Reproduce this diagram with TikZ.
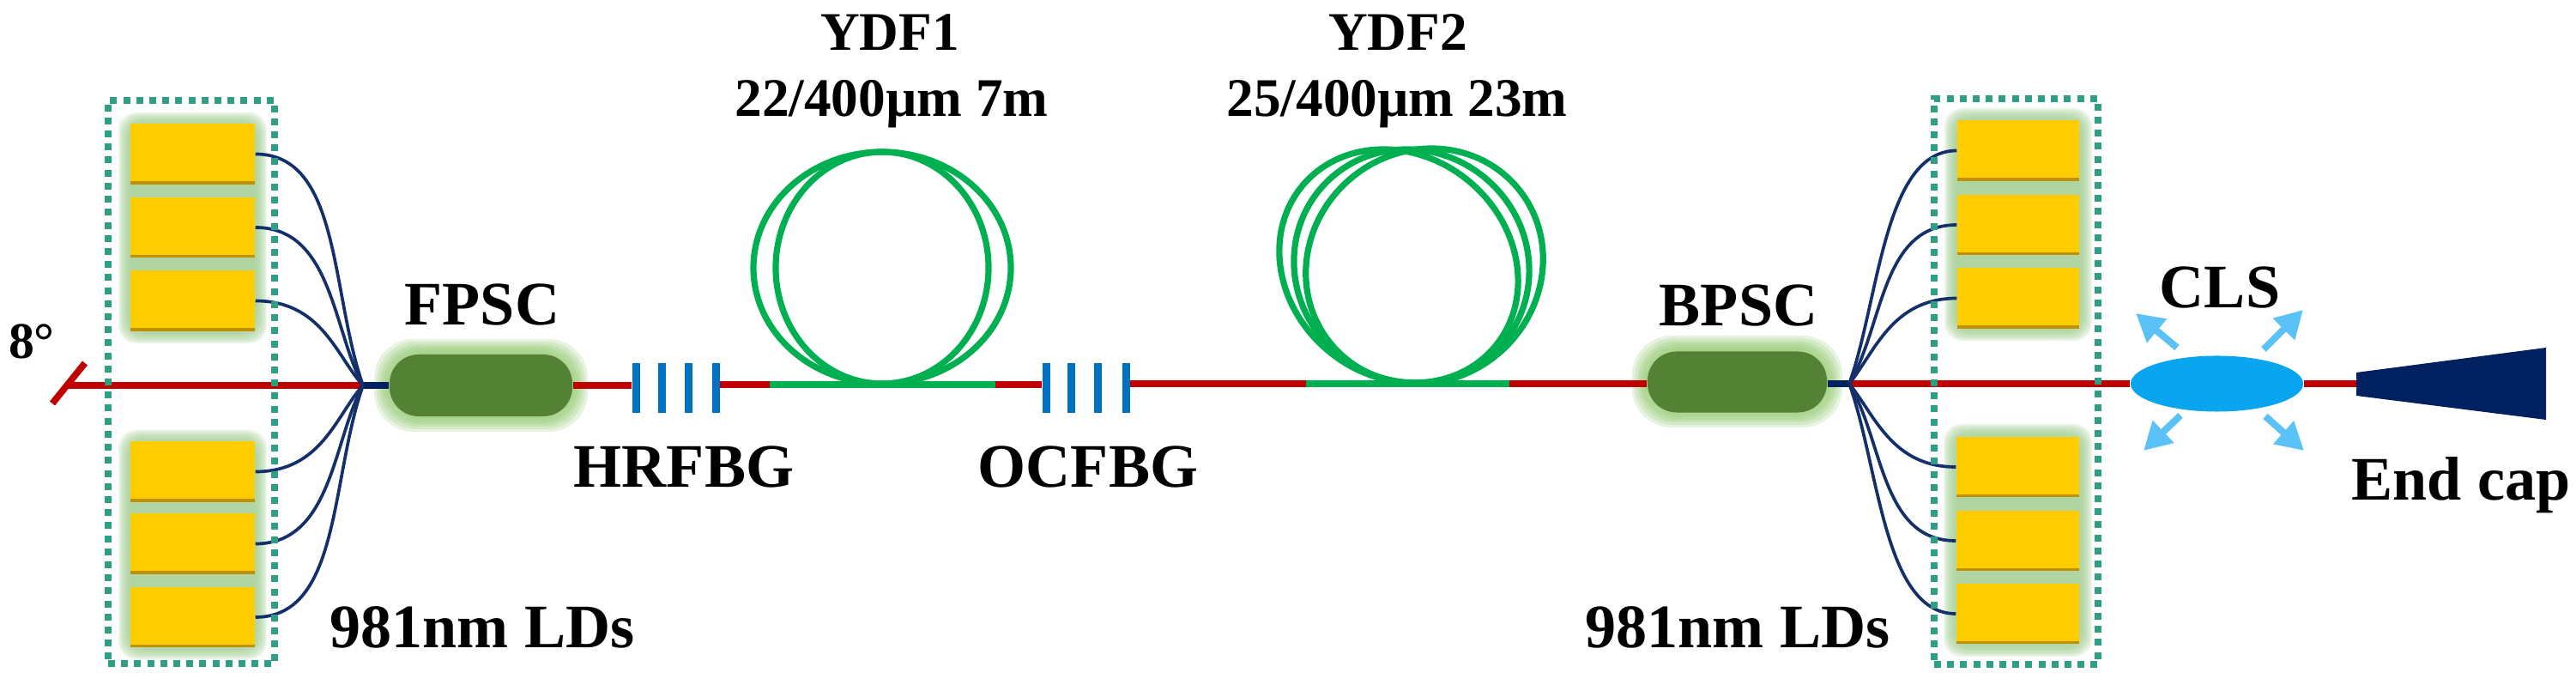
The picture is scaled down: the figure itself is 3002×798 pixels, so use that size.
\documentclass[tikz,border=0pt]{standalone}
\usepackage{fontspec}
\setmainfont{Liberation Serif}
\usetikzlibrary{arrows.meta,shapes.geometric}
\definecolor{ldgold}{HTML}{FFCC00}
\definecolor{ldshade}{HTML}{BF9000}
\definecolor{glowld}{HTML}{A6CF96}
\definecolor{glowpc}{HTML}{98CB78}
\definecolor{pcgreen}{HTML}{548235}
\definecolor{fibred}{HTML}{C00000}
\definecolor{fibgreen}{HTML}{00B050}
\definecolor{navy}{HTML}{002060}
\definecolor{pumpnavy}{HTML}{14306A}
\definecolor{fbgblue}{HTML}{0070C0}
\definecolor{teal}{HTML}{2E9E84}
\definecolor{clsblue}{HTML}{09A5EE}
\definecolor{rayblue}{HTML}{5BC2F8}
\newcommand\glowrect[7]{%
  \foreach \p in {#5}
    \fill[#6,opacity=.24,rounded corners=#7] ({#1-\p},{#2-\p}) rectangle ({#3+\p},{#4+\p});}
\tikzset{
  ldbox/.style={draw=none,fill=ldgold,inner sep=0pt,minimum height=.70cm,
    path picture={\fill[ldshade] (path picture bounding box.south west) rectangle ([yshift=.035cm]path picture bounding box.south east);}},
  coupler/.style={draw=none,fill=pcgreen,rounded corners=.34cm,inner sep=0pt},
  redfib/.style={draw=fibred,line width=2.2pt},
  greenfib/.style={draw=fibgreen,line width=2.2pt},
  feed/.style={draw=navy,line width=2.3pt},
  pump/.style={draw=pumpnavy,line width=1.05pt},
  coil/.style={draw=fibgreen,line width=2.05pt},
  grating/.style={fill=fbgblue,draw=none,inner sep=0pt,minimum width=.09cm,minimum height=.57cm},
  dotbox/.style={draw=teal,line width=2.2pt,dash pattern=on .08cm off .072cm,inner sep=0pt,fill=none},
  ray/.style={draw=rayblue,line width=2.3pt,-{Triangle[length=.32cm,width=.34cm]}},
  big/.style={font=\bfseries\fontsize{20.5}{24}\selectfont,inner sep=0pt,anchor=base,text=black},
  small/.style={font=\bfseries\fontsize{18}{21}\selectfont,inner sep=0pt,anchor=base,text=black},
  deg/.style={font=\bfseries\fontsize{17}{20}\selectfont,inner sep=0pt,anchor=base,text=black},
}
\begin{document}
\begin{tikzpicture}[x=0.01cm,y=-0.01cm]
\path[use as bounding box] (0,0) rectangle (3002,798);
% glows
\glowrect{152}{145}{297}{386}{14,12,10,8,6,4,2,0}{glowld}{6pt}
\glowrect{152}{515}{297}{754}{14,12,10,8,6,4,2,0}{glowld}{6pt}
\glowrect{2281}{141}{2423}{382}{15,13,11,9,7,5,3,0}{glowld}{6pt}
\glowrect{2280}{509}{2423}{750}{15,13,11,9,7,5,3,0}{glowld}{6pt}
\glowrect{454}{413}{667}{485}{18,15,12,10,8,5,2}{glowpc}{13pt}
\glowrect{1920}{409}{2129}{480}{18,15,12,10,8,5,2}{glowpc}{13pt}
% laser diodes
\node[ldbox,minimum width=1.45cm] (L1) at (224.5,179.5) {};
\node[ldbox,minimum width=1.45cm] (L2) at (224.5,265) {};
\node[ldbox,minimum width=1.45cm] (L3) at (224.5,350.5) {};
\node[ldbox,minimum width=1.45cm] (L4) at (224.5,549.5) {};
\node[ldbox,minimum width=1.45cm] (L5) at (224.5,633.5) {};
\node[ldbox,minimum width=1.45cm] (L6) at (224.5,719) {};
\node[ldbox,minimum width=1.42cm] (R1) at (2352,175.5) {};
\node[ldbox,minimum width=1.42cm] (R2) at (2352,262) {};
\node[ldbox,minimum width=1.42cm] (R3) at (2352,347.5) {};
\node[ldbox,minimum width=1.43cm] (R4) at (2351.5,544) {};
\node[ldbox,minimum width=1.43cm] (R5) at (2351.5,630) {};
\node[ldbox,minimum width=1.43cm] (R6) at (2351.5,715) {};
% couplers, lens
\node[coupler,minimum width=2.13cm,minimum height=.72cm] (FPSC) at (560.5,449) {};
\node[coupler,minimum width=2.09cm,minimum height=.71cm] (BPSC) at (2024.5,445) {};
\node[ellipse,fill=clsblue,draw=none,inner sep=0pt,minimum width=2.01cm,minimum height=.65cm] (CLS) at (2583.5,447) {};
% gratings
\node[grating] (G1) at (741,452) {};
\node[grating] (G2) at (771,452) {};
\node[grating] (G3) at (802,452) {};
\node[grating] (G4) at (834,452) {};
\node[grating] (G5) at (1219,452) {};
\node[grating] (G6) at (1248,452) {};
\node[grating] (G7) at (1279,452) {};
\node[grating] (G8) at (1312,452) {};
% junction points
\coordinate (tip) at (80,449);
\coordinate (tiltA) at (61,470);
\coordinate (tiltB) at (99,423);
\coordinate (fc) at (423,449);
\coordinate (bc) at (2155,447);
\coordinate (y1a) at (897,448);
\coordinate (y1b) at (1160,448);
\coordinate (y2a) at (1522,447);
\coordinate (y2b) at (1759,447);
\coordinate (capin) at (2746,447);
% fibres
\draw[redfib] (tiltA) -- (tiltB);
\draw[redfib] (tip) -- (fc);
\draw[feed] (fc) -- (FPSC.west);
\draw[redfib] (FPSC.east) -- (G1.west |- FPSC.east);
\draw[redfib] (G4.east |- y1a) -- (y1a);
\draw[redfib] (y1b) -- (G5.west |- y1b);
\draw[redfib] (G8.east |- y2a) -- (y2a);
\draw[redfib] (y2b) -- (BPSC.west |- y2b);
\draw[feed] (BPSC.east |- bc) -- (bc);
\draw[redfib] (bc) -- (CLS.west);
\draw[redfib] (CLS.east) -- (capin);
% pump fibres
\draw[pump] (L1.east) .. controls (397,179.5) and (385,340) .. (fc);
\draw[pump] (L2.east) .. controls (387,265) and (388,385) .. (fc);
\draw[pump] (L3.east) .. controls (375,350.5) and (392,415) .. (fc);
\draw[pump] (L4.east) .. controls (375,549.5) and (392,483) .. (fc);
\draw[pump] (L5.east) .. controls (387,633.5) and (388,513) .. (fc);
\draw[pump] (L6.east) .. controls (397,719) and (385,558) .. (fc);
\draw[pump] (R1.west) .. controls (2195,175.5) and (2190,350) .. (bc);
\draw[pump] (R2.west) .. controls (2192,262) and (2195,380) .. (bc);
\draw[pump] (R3.west) .. controls (2205,347.5) and (2185,410) .. (bc);
\draw[pump] (R4.west) .. controls (2205,544) and (2185,484) .. (bc);
\draw[pump] (R5.west) .. controls (2192,630) and (2195,514) .. (bc);
\draw[pump] (R6.west) .. controls (2195,715) and (2190,544) .. (bc);
% active fibre and coils
\draw[coil] (1028,312) ellipse [x radius=150,y radius=135];
\draw[coil] (1028,312) ellipse [x radius=124,y radius=135];
\draw[coil,shift={(1630,310)},xslant=-.13] (0,0) ellipse [x radius=138,y radius=136];
\draw[coil,shift={(1645,310)},xslant=-.04] (0,0) ellipse [x radius=137,y radius=136];
\draw[coil,shift={(1660,310)},xslant=.06] (0,0) ellipse [x radius=138,y radius=137];
\draw[greenfib] (y1a) -- (y1b);
\draw[greenfib] (y2a) -- (y2b);
% end cap
\fill[navy] (capin |- 0,434) -- (2967,405) -- (2967,489) -- (capin |- 0,461) -- cycle;
% scattered light
\coordinate (a1s) at (2537,405); \coordinate (a1e) at (2489,365);
\coordinate (a2s) at (2638,407); \coordinate (a2e) at (2684,361);
\coordinate (a3s) at (2541,484); \coordinate (a3e) at (2498,525);
\coordinate (a4s) at (2640,485); \coordinate (a4e) at (2685,525);
\draw[ray] (a1s) -- (a1e);
\draw[ray] (a2s) -- (a2e);
\draw[ray] (a3s) -- (a3e);
\draw[ray] (a4s) -- (a4e);
% dotted groups
\node[dotbox,minimum width=1.94cm,minimum height=6.56cm] (GL) at (223,445) {};
\node[dotbox,minimum width=1.91cm,minimum height=6.59cm] (GR) at (2349.5,444.5) {};
% labels
\node[deg] (t8) at (37,418) {8°};
\node[big] (tF) at (562,379) {FPSC};
\node[big] (tB) at (2026,380) {BPSC};
\node[big] (tH) at (797,568) {HRFBG};
\node[big] (tO) at (1268,568) {OCFBG};
\node[big] (tLl) at (562,755) {981nm LDs};
\node[big] (tLr) at (2025,755) {981nm LDs};
\node[big] (tC) at (2587,359) {CLS};
\node[big] (tE) at (2868,583) {End cap};
\node[small] (tY1) at (1037,59) {YDF1};
\node[small] (tY1b) at (1039,136) {22/400µm 7m};
\node[small] (tY2) at (1629,59) {YDF2};
\node[small] (tY2b) at (1628,136) {25/400µm 23m};
\end{tikzpicture}
\end{document}
